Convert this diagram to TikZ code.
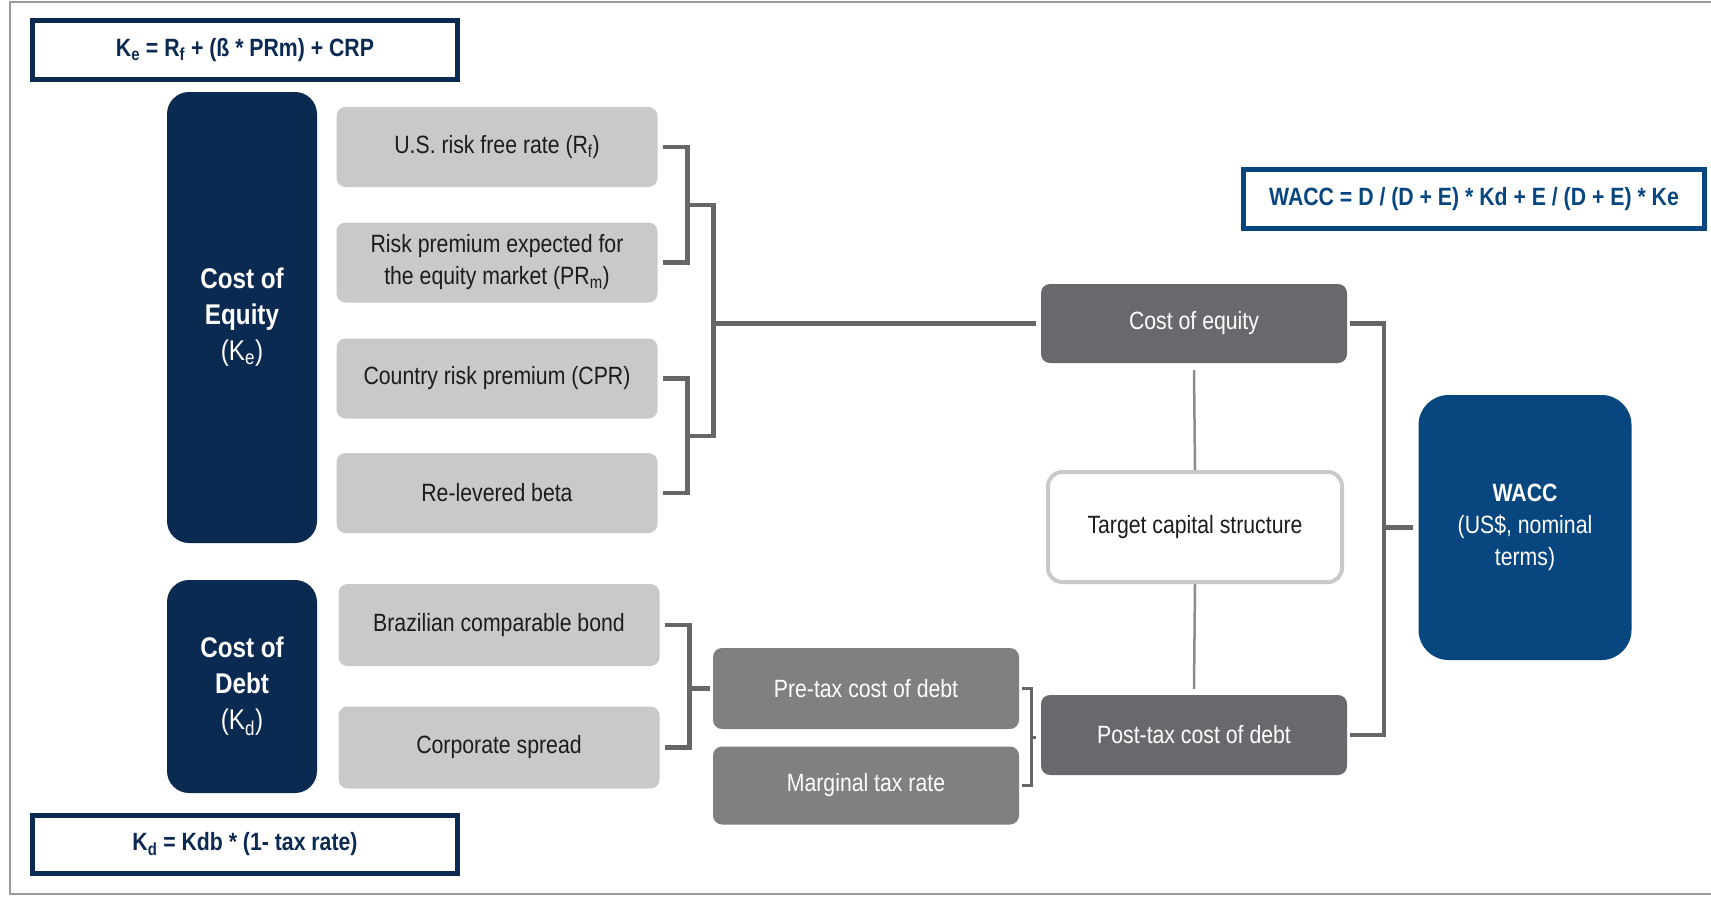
\documentclass[tikz,border=0pt]{standalone}
\usepackage{fontspec}
\setmainfont{Liberation Sans}[FakeStretch=0.85]
\usepackage{xcolor}
\usetikzlibrary{calc,positioning}
\definecolor{navy}{RGB}{11,42,82}
\definecolor{waccblue}{RGB}{8,70,128}
\definecolor{lgrey}{RGB}{200,201,203}
\definecolor{dgrey}{RGB}{104,105,108}
\definecolor{mgrey}{RGB}{128,128,129}
\definecolor{lnkgrey}{RGB}{102,102,104}
\definecolor{txtgrey}{RGB}{28,28,28}
\newcommand{\lsub}[1]{\textsubscript{#1}}

\begin{document}
\begin{tikzpicture}[x=1pt,y=-1pt,font=\fontsize{25}{32}\selectfont,
  fbox/.style={draw,line width=5pt,inner sep=0pt,font=\fontsize{25}{32}\selectfont\bfseries},
  costbox/.style={fill=navy,rounded corners=22pt,minimum width=150pt,text=white,align=center,
    inner sep=0pt,font=\fontsize{28.5}{36}\selectfont},
  itembox/.style={fill=lgrey,rounded corners=9pt,minimum width=321pt,minimum height=80pt,
    text=txtgrey,align=center,inner sep=0pt},
  resbox/.style={fill=dgrey,rounded corners=9pt,minimum width=306pt,minimum height=80pt,
    text=white,inner sep=0pt},
  brk/.style={draw=lnkgrey,line width=4.5pt},
  sbrk/.style={draw=lnkgrey,line width=3pt},
  vln/.style={draw=lnkgrey!75,line width=2.5pt}]
  \useasboundingbox (0,0) rectangle (1711,898);
  \draw[black!40,line width=2pt] (1711,2) -- (10,2) -- (10,894) -- (1711,894);

  % formulas
  \node[fbox,draw=navy,text=navy,minimum width=425pt,minimum height=59pt] (keform) at (245,50)
    {K\lsub{e} = R\lsub{f} + (ß * PRm) + CRP};
  \node[fbox,draw=navy,text=navy,minimum width=425pt,minimum height=58pt] (kdform) at (245,844.5)
    {K\lsub{d} = Kdb * (1- tax rate)};
  \node[fbox,draw=waccblue,text=waccblue,minimum width=461pt,minimum height=59pt] (waccform) at (1474,199)
    {WACC = D / (D + E) * Kd + E / (D + E) * Ke};

  % cost of equity
  \node[costbox,minimum height=451pt] (costeq) at (242,317.5)
    {\textbf{Cost of}\\\textbf{Equity}\\(K\lsub{e})};
  \node[itembox] (rf) at (497,147) {U.S. risk free rate (R\lsub{f})};
  \node[itembox] (prm) at (497,262.5) {Risk premium expected for\\the equity market (PR\lsub{m})};
  \node[itembox] (crp) at (497,378.5) {Country risk premium (CPR)};
  \node[itembox] (beta) at (497,493) {Re-levered beta};

  % cost of debt
  \node[costbox,minimum height=213pt] (costdebt) at (242,686.5)
    {\textbf{Cost of}\\\textbf{Debt}\\(K\lsub{d})};
  \node[itembox,minimum height=82pt] (bond) at (499,625) {Brazilian comparable bond};
  \node[itembox,minimum height=82pt] (spread) at (499,747.5) {Corporate spread};
  \node[resbox,fill=mgrey,minimum height=81pt] (pretax) at (866,688.5) {Pre-tax cost of debt};
  \node[resbox,fill=mgrey,minimum height=78pt] (margtax) at (866,785.5) {Marginal tax rate};

  % right side
  \node[resbox,minimum height=79pt] (coe) at (1194,323.5) {Cost of equity};
  \node[draw=lgrey,line width=4pt,fill=white,rounded corners=14pt,minimum width=294pt,
    minimum height=110pt,text=txtgrey] (tcs) at (1195,527) {Target capital structure};
  \node[resbox] (post) at (1194,735) {Post-tax cost of debt};
  \node[fill=waccblue,rounded corners=30pt,minimum width=213pt,minimum height=265pt,
    text=white,align=center,inner sep=0pt] (wacc) at (1525,527.5)
    {\textbf{WACC}\\(US\$, nominal\\terms)};

  % brackets
  \coordinate (j1) at ($(rf.east)!.5!(prm.east)+(30,0)$);
  \coordinate (j2) at ($(crp.east)!.5!(beta.east)+(30,0)$);
  \coordinate (j3) at ($(j1)!.5!(j2)+(26,0)$);
  \draw[brk] ([xshift=5pt]rf.east) -| (j1) |- ([xshift=5pt]prm.east);
  \draw[brk] ([xshift=5pt]crp.east) -| (j2) |- ([xshift=5pt]beta.east);
  \draw[brk] (j1) -| (j3) |- (j2);
  \draw[brk] (j3 |- coe.west) -- ([xshift=-5pt]coe.west);

  \coordinate (j4) at ($(bond.east)!.5!(spread.east)+(30,0)$);
  \draw[brk] ([xshift=5pt]bond.east) -| (j4) |- ([xshift=5pt]spread.east);
  \draw[brk] (j4 |- pretax.west) -- ([xshift=-3pt]pretax.west);

  \coordinate (j5) at ($(pretax.east)!.5!(margtax.east)+(12,0)$);
  \draw[sbrk] ([xshift=3pt]pretax.east) -| (j5) |- ([xshift=3pt]margtax.east);
  \draw[sbrk] (j5) -- ([xshift=-5pt]post.west |- j5);

  \coordinate (j6) at ($(post.east)+(37,0)$);
  \draw[brk] ([xshift=3pt]coe.east) -| (j6) -- ([xshift=3pt]post.east);
  \draw[brk] (j6 |- wacc.west) -- ([xshift=-5pt]wacc.west);

  \draw[vln] ([yshift=-7pt]coe.south) -- (tcs.north);
  \draw[vln] (tcs.south) -- ([yshift=6pt]post.north);
\end{tikzpicture}
\end{document}
